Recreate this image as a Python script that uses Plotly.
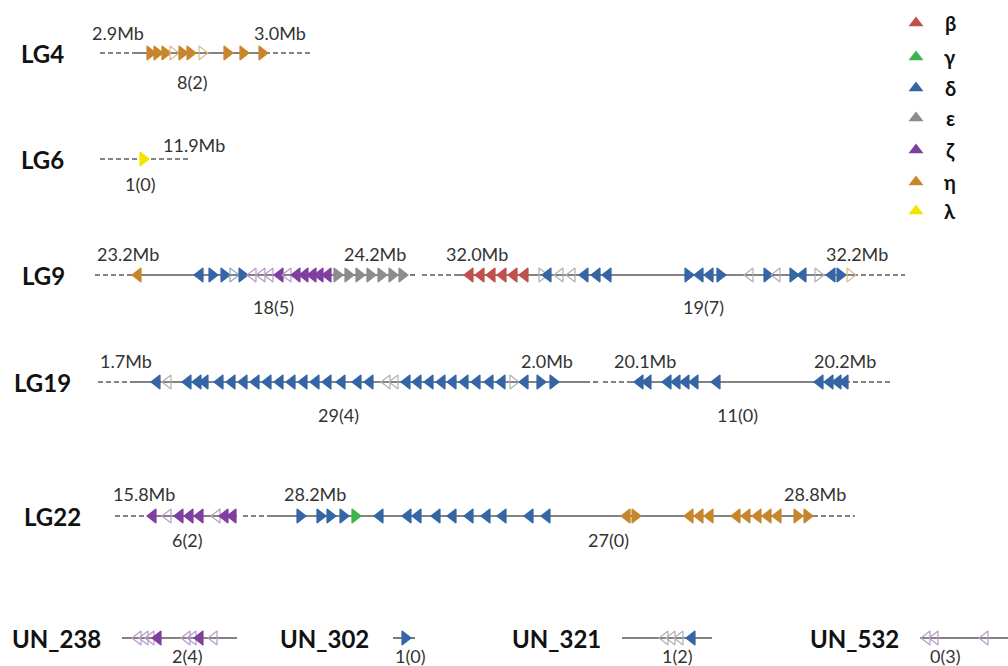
import plotly.graph_objects as go

# ---------------- data ----------------
family_keys = ["b", "g", "d", "e", "z", "h", "l"]
family_labels = ["β", "γ", "δ", "ε", "ζ", "η", "λ"]
family_colors = ["#c0504d", "#3cb44b", "#3565a5", "#8c8c8c", "#7e3f9e", "#c8862c", "#f2e600"]
open_colors = ["#d9a09e", "#9fd8a6", "#8fa6c8", "#b0b0b0", "#b79ac8", "#dcb888", "#f5ee80"]

# gene tokens: family + direction ('<' or '>') + optional 'o' (open / pseudogene)
lg4_x = [150, 157, 165, 173, 182, 190, 202, 227, 243, 262]
lg4_g = ["h>", "h>", "h>", "h>o", "h>", "h>", "h>o", "h>", "h>", "h>"]

lg6_x = [143]
lg6_g = ["l>"]

lg9a_x = [138, 200, 212, 224, 233, 242, 253, 262, 270, 280, 288, 297, 305, 313, 320, 328,
          337, 348, 359, 370, 381, 392, 402]
lg9a_g = ["h<", "d<", "d>", "d>", "d>o", "d>", "z<o", "z<o", "z<o", "z<", "z<o", "z<", "z<", "z<", "z<", "z<",
          "e>", "e>", "e>", "e>", "e>", "e>", "e>"]

lg9b_x = [470, 481, 492, 503, 514, 525, 542, 548, 560, 572, 585, 597, 608,
          688, 700, 710, 720, 750, 767, 777, 793, 803, 818, 832, 840, 850]
lg9b_g = ["b<", "b<", "b<", "b<", "b<", "b<", "e>o", "d<", "e<o", "e<o", "d<", "d<", "d<",
          "d>", "d<", "d<", "d>", "e<o", "d>", "e<o", "d>", "d<", "e>o", "d<", "d>", "h>o"]

lg19a_x = [157, 168, 188, 198, 205, 220, 232, 244, 256, 268, 280, 292, 304, 316, 328, 342, 358, 370,
           387, 395, 407, 418, 430, 442, 453, 465, 477, 490, 502, 513, 525, 540, 553]
lg19a_g = ["d<", "e<o", "d<", "d<", "d<"] + ["d<"] * 13 + ["e<o", "e<o"] + ["d<"] * 9 + ["e>o", "d<", "d>", "d>"]

lg19b_x = [640, 648, 668, 677, 686, 695, 717, 820, 830, 838, 845]
lg19b_g = ["d<"] * 11

lg22a_x = [153, 168, 180, 190, 200, 217, 225, 233]
lg22a_g = ["z<", "z<o", "z<", "z<", "z<", "z<o", "z<", "z<"]

lg22b_x = [300, 320, 330, 343, 355, 380, 408, 418, 437, 453, 470, 487, 503, 530, 547,
           627, 635, 690, 700, 710, 737, 747, 758, 768, 778, 797, 807]
lg22b_g = ["d>", "d>", "d>", "d>", "g>"] + ["d<"] * 10 + ["h<", "h>", "h<", "h<", "h<", "h<", "h<", "h<", "h<", "h<", "h>", "h>"]

un238_x = [138, 145, 151, 158, 187, 193, 200, 214]
un238_g = ["z<o", "z<o", "z<o", "z<", "z<o", "z<o", "z<", "z<o"]
un302_x = [405]
un302_g = ["d>"]
un321_x = [665, 672, 680, 692]
un321_g = ["e<o", "e<o", "e<o", "d<"]
un532_x = [927, 935, 985]
un532_g = ["z<o", "z<o", "z<o"]

cluster_x = [lg4_x, lg6_x, lg9a_x, lg9b_x, lg19a_x, lg19b_x, lg22a_x, lg22b_x, un238_x, un302_x, un321_x, un532_x]
cluster_g = [lg4_g, lg6_g, lg9a_g, lg9b_g, lg19a_g, lg19b_g, lg22a_g, lg22b_g, un238_g, un302_g, un321_g, un532_g]

track_names = ["LG4", "LG6", "LG9", "LG19", "LG22"]
un_names = ["UN_238", "UN_302", "UN_321", "UN_532"]
count_labels = ["8(2)", "1(0)", "18(5)", "19(7)", "29(4)", "11(0)", "6(2)", "27(0)", "2(4)", "1(0)", "1(2)", "0(3)"]
mb_labels = ["2.9Mb", "3.0Mb", "11.9Mb", "23.2Mb", "24.2Mb", "32.0Mb", "32.2Mb",
             "1.7Mb", "2.0Mb", "20.1Mb", "20.2Mb", "15.8Mb", "28.2Mb", "28.8Mb"]

# ---------------- layout (positions) ----------------
track_y = [53, 159, 275, 382, 516]
track_label_x = [19, 19, 20, 12, 22]
un_y = 638
un_label_x = [10, 278, 510, 808]

cluster_y = [53, 159, 275, 275, 382, 382, 516, 516, un_y, un_y, un_y, un_y]
# (dash_start, solid_start, solid_end, dash_end) per cluster
cluster_lines = [
    (100, 133, 270, 310),
    (100, 140, 140, 188),
    (95, 128, 407, 418),
    (422, 455, 858, 905),
    (98, 130, 590, 600),
    (603, 630, 850, 890),
    (115, 150, 237, 237),
    (243, 272, 818, 855),
    (122, 122, 237, 237),
    (393, 393, 415, 415),
    (622, 622, 712, 712),
    (920, 920, 1008, 1008),
]
count_pos = [(192, 82), (140, 184), (273, 307), (703, 307), (338, 415), (737, 415),
             (187, 540), (608, 540), (187, 656), (410, 656), (677, 656), (945, 656)]
mb_pos = [(118, 33), (280, 33), (194, 145), (128, 254), (375, 254), (477, 254), (857, 254),
          (126, 361), (547, 361), (645, 361), (845, 361), (144, 494), (315, 494), (815, 494)]
legend_x_marker, legend_x_text = 916, 950
legend_y = [23, 57, 88, 118, 150, 182, 211]

LINE_COLOR = "#5a5a5a"
FONT = "Lato, 'Open Sans', sans-serif"

fig = go.Figure()

# backbone lines
for (d0, s0, s1, d1), y in zip(cluster_lines, cluster_y):
    if s0 > d0:
        fig.add_trace(go.Scatter(x=[d0, s0], y=[y, y], mode="lines",
                                 line=dict(color=LINE_COLOR, width=1.6, dash="5px,3px"), hoverinfo="skip"))
    if s1 > s0:
        fig.add_trace(go.Scatter(x=[s0, s1], y=[y, y], mode="lines",
                                 line=dict(color=LINE_COLOR, width=1.6), hoverinfo="skip"))
    if d1 > s1:
        fig.add_trace(go.Scatter(x=[s1 + 3, d1], y=[y, y], mode="lines",
                                 line=dict(color=LINE_COLOR, width=1.6, dash="5px,3px"), hoverinfo="skip"))

# genes
for xs, gs, y in zip(cluster_x, cluster_g, cluster_y):
    syms, cols = [], []
    for g in gs:
        fi = family_keys.index(g[0])
        is_open = g.endswith("o")
        base = "triangle-right" if g[1] == ">" else "triangle-left"
        syms.append(base + ("-open" if is_open else ""))
        cols.append(open_colors[fi] if is_open else family_colors[fi])
    fig.add_trace(go.Scatter(x=xs, y=[y] * len(xs), mode="markers",
                             marker=dict(symbol=syms, color=cols, size=12, line=dict(width=1.2, color=cols)),
                             hoverinfo="skip"))

# legend
fig.add_trace(go.Scatter(x=[legend_x_marker] * len(family_keys), y=legend_y, mode="markers",
                         marker=dict(symbol="triangle-up", size=13, color=family_colors), hoverinfo="skip"))

ann = []
for name, x, y in zip(track_names, track_label_x, track_y):
    ann.append(dict(x=x, y=y, text="<b>" + name + "</b>", xanchor="left", font=dict(size=24)))
for name, x in zip(un_names, un_label_x):
    ann.append(dict(x=x, y=un_y, text="<b>" + name + "</b>", xanchor="left", font=dict(size=24)))
for t, (x, y) in zip(count_labels, count_pos):
    ann.append(dict(x=x, y=y, text=t, xanchor="center", font=dict(size=18, color="#333333")))
for t, (x, y) in zip(mb_labels, mb_pos):
    ann.append(dict(x=x, y=y, text=t, xanchor="center", font=dict(size=18, color="#333333")))
for t, y in zip(family_labels, legend_y):
    ann.append(dict(x=legend_x_text, y=y, text="<b>" + t + "</b>", xanchor="center", font=dict(size=20)))
for a in ann:
    a.update(xref="x", yref="y", showarrow=False, yanchor="middle")
    a["font"].setdefault("color", "#111111")
    a["font"]["family"] = FONT

fig.update_layout(
    width=1008, height=666, margin=dict(l=0, r=0, t=0, b=0),
    paper_bgcolor="white", plot_bgcolor="white", showlegend=False,
    xaxis=dict(range=[0, 1008], visible=False, fixedrange=True),
    yaxis=dict(range=[666, 0], visible=False, fixedrange=True),
    annotations=ann,
)
fig.write_html("out.html", config={"displayModeBar": False},
               post_script="document.body.style.margin='0px';document.body.style.overflow='hidden';")
